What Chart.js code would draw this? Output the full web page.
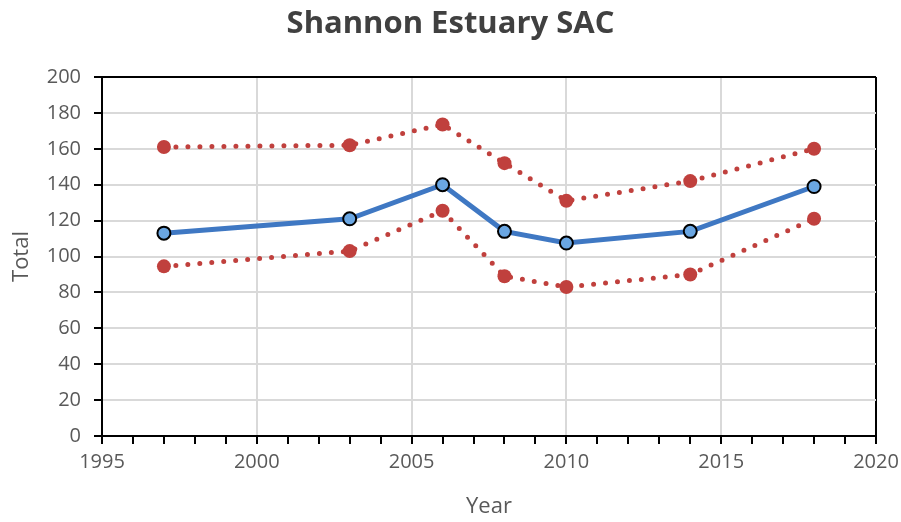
<!DOCTYPE html>
<html>
<head>
<meta charset="utf-8">
<script src="https://cdn.jsdelivr.net/npm/chart.js@4"></script>
<style>
html,body{margin:0;padding:0;background:#fff}
#wrap{width:901px;height:522px}
</style>
</head>
<body>
<div id="wrap"><canvas id="chartSAC" width="901" height="522"></canvas></div>
<script>
// --- Shannon Estuary SAC ---
var years=[1997,2003,2006,2008,2010,2014,2018];
var totals=[113,121,140,114,107.5,114,139];
var upperCI=[161,162,173.5,152,131,142,160];
var lowerCI=[94.5,103,125.5,89,83,90,121];
var xTicks={min:1995,max:2020,major:5};
var yTicks={min:0,max:200,step:20};

function pts(arr){return years.map(function(y,i){return{x:y,y:arr[i]};});}

var rojo='#c0403d',azul='#3f78c3';
var fuente='"Open Sans", "DejaVu Sans", sans-serif';

new Chart(document.getElementById('chartSAC'),{
  type:'line',
  data:{
    datasets:[
      {label:'Total',data:pts(totals),borderColor:azul,borderWidth:5,backgroundColor:'#6aa6e2',
       pointRadius:6.5,pointBorderColor:'#000',pointBorderWidth:2,tension:0},
      {label:'Upper',data:pts(upperCI),borderColor:rojo,borderWidth:5,borderDash:[0,12],borderCapStyle:'round',
       pointRadius:7,pointBackgroundColor:rojo,pointBorderWidth:0,tension:0},
      {label:'Lower',data:pts(lowerCI),borderColor:rojo,borderWidth:5,borderDash:[0,12],borderCapStyle:'round',
       pointRadius:7,pointBackgroundColor:rojo,pointBorderWidth:0,tension:0}
    ]
  },
  options:{
    responsive:false,animation:false,
    layout:{padding:{left:0,right:0,top:0,bottom:0}},
    plugins:{
      legend:{display:false},tooltip:{enabled:false},
      title:{display:true,text:'Shannon Estuary SAC',color:'#404040',
        font:{family:fuente,size:31,weight:'bold',lineHeight:1.2},padding:{top:6,bottom:33.8}}
    },
    scales:{
      x:{type:'linear',min:xTicks.min,max:xTicks.max,
        afterFit:function(s){s.height=86;s.paddingRight=25;},
        border:{color:'#000',width:2},
        grid:{
          color:function(c){var v=c.tick.value;if(v===xTicks.max)return'#000';return v%xTicks.major===0?'#d9d9d9':'rgba(0,0,0,0)';},
          lineWidth:2,tickColor:'#000',tickWidth:2,tickLength:8
        },
        ticks:{stepSize:1,autoSkip:false,maxRotation:0,padding:6,color:'#595959',font:{family:fuente,size:20},
          callback:function(v){return v%xTicks.major===0?String(v):'';}},
        title:{display:true,text:'Year',color:'#595959',font:{family:fuente,size:22,lineHeight:1.2},padding:{top:0,bottom:2}}
      },
      y:{min:yTicks.min,max:yTicks.max,
        afterFit:function(s){s.width=102;},
        border:{color:'#000',width:2},
        grid:{
          color:function(c){return c.tick.value===yTicks.max?'#000':'#d9d9d9';},
          lineWidth:2,tickColor:'#000',tickWidth:2,tickLength:8
        },
        ticks:{stepSize:yTicks.step,padding:13,color:'#595959',font:{family:fuente,size:20}},
        title:{display:true,text:'Total',color:'#595959',font:{family:fuente,size:22,lineHeight:1.2},padding:{top:9,bottom:0}}
      }
    }
  }
});
</script>
</body>
</html>
